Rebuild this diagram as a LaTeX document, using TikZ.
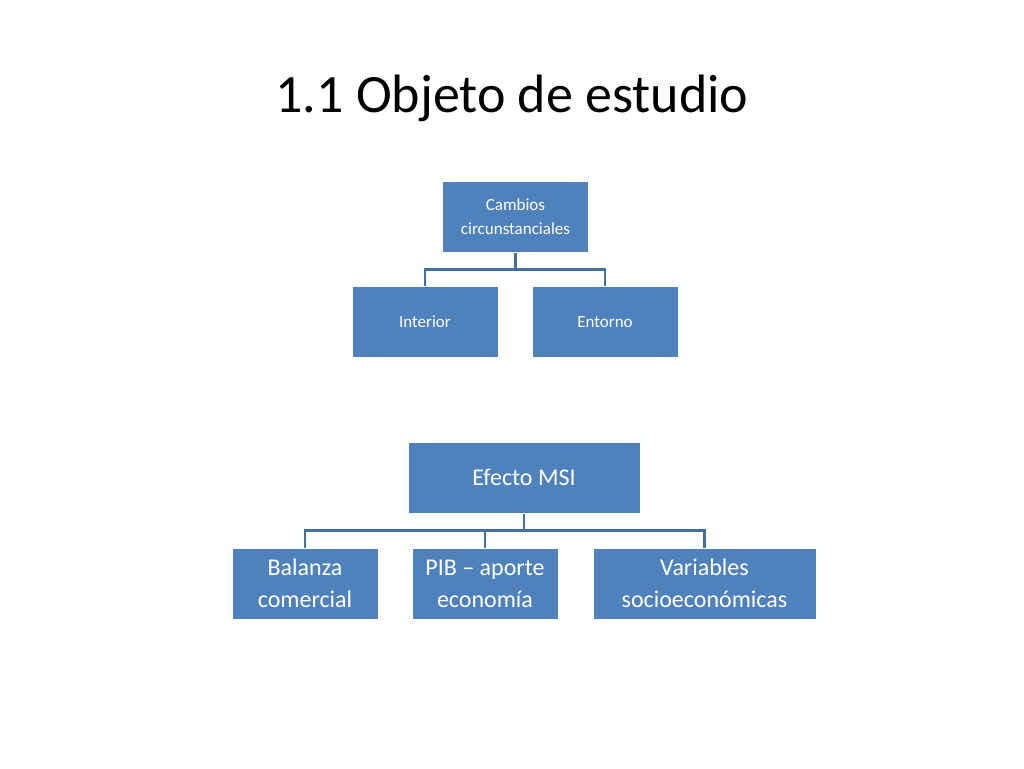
\documentclass[tikz,border=0pt]{standalone}
\usepackage{fontspec}
\setmainfont{Carlito}
\usetikzlibrary{positioning}
\definecolor{boxblue}{HTML}{4F81BD}
\definecolor{lineblue}{HTML}{41719C}

\begin{document}
\begin{tikzpicture}[x=1pt, y=-1pt]
    \tikzstyle{block} = [rectangle, fill=boxblue, draw=white, line width=1pt,
        text=white, align=center, minimum width=146pt, minimum height=71pt, inner sep=1pt]
    \tikzstyle{line} = [draw=lineblue, line width=2.5pt]
    \useasboundingbox (0,0) rectangle (1024,768);

    \node [font=\fontsize{54}{60}\selectfont] (title) at (512,98) {1.1 Objeto de estudio};

    \node [block, font=\fontsize{17}{24}\selectfont] (cambios) at (515.5,216.5) {Cambios\\circunstanciales};
    \node [block, font=\fontsize{17}{24}\selectfont] (interior) at (425,322) {Interior};
    \node [block, font=\fontsize{17}{24}\selectfont] (entorno) at (605,322) {Entorno};

    \node [block, minimum width=232pt, font=\fontsize{24}{32}\selectfont] (efecto) at (524,477.5) {Efecto MSI};
    \node [block, font=\fontsize{24}{32}\selectfont] (balanza) at (305,583.5) {Balanza\\comercial};
    \node [block, font=\fontsize{24}{32}\selectfont] (pib) at (485,583.5) {PIB -- aporte\\economía};
    \node [block, minimum width=223pt, font=\fontsize{24}{32}\selectfont] (variables) at (704.5,583.5) {Variables\\socioeconómicas};

    \path [line] (cambios.south) -- ++(0,17) -| (interior.north);
    \path [line] (cambios.south) -- ++(0,17) -| (entorno.north);
    \path [line] (efecto.south) -- ++(0,17) -| (balanza.north);
    \path [line] (efecto.south) -- ++(0,17) -| (pib.north);
    \path [line] (efecto.south) -- ++(0,17) -| (variables.north);
\end{tikzpicture}
\end{document}
